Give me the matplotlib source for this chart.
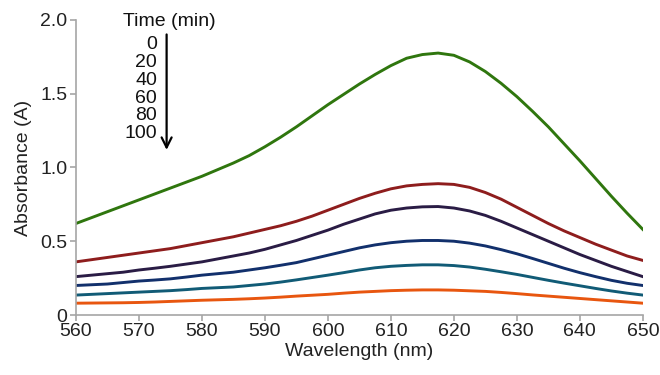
import numpy as np
import matplotlib
matplotlib.use("Agg")
import matplotlib.pyplot as plt

plt.rcParams['font.family'] = ['Liberation Sans', 'DejaVu Sans']

# Wavelength grid (nm), every 2.5 nm, and absorbance.
wavelength = np.arange(560, 650.1, 2.5)

abs_0 = [0.62, 0.66, 0.70, 0.74, 0.78, 0.82, 0.86, 0.90, 0.94, 0.985,
         1.03, 1.08, 1.14, 1.205, 1.275, 1.35, 1.425, 1.495, 1.565, 1.63,
         1.69, 1.74, 1.765, 1.775, 1.76, 1.715, 1.65, 1.57, 1.48, 1.38,
         1.275, 1.16, 1.045, 0.925, 0.805, 0.69, 0.58]
abs_20 = [0.36, 0.375, 0.39, 0.405, 0.42, 0.435, 0.45, 0.47, 0.49, 0.51,
          0.53, 0.555, 0.58, 0.605, 0.635, 0.67, 0.71, 0.75, 0.79, 0.825,
          0.855, 0.875, 0.885, 0.89, 0.885, 0.865, 0.83, 0.785, 0.73, 0.675,
          0.62, 0.57, 0.525, 0.48, 0.44, 0.40, 0.37]
abs_40 = [0.26, 0.27, 0.28, 0.29, 0.305, 0.317, 0.33, 0.345, 0.36, 0.38,
          0.40, 0.42, 0.445, 0.475, 0.505, 0.54, 0.575, 0.615, 0.65, 0.685,
          0.71, 0.725, 0.733, 0.735, 0.725, 0.705, 0.675, 0.635, 0.59, 0.545,
          0.50, 0.455, 0.41, 0.37, 0.33, 0.295, 0.26]
abs_60 = [0.20, 0.205, 0.21, 0.22, 0.23, 0.237, 0.245, 0.257, 0.27, 0.28,
          0.29, 0.305, 0.32, 0.337, 0.355, 0.38, 0.405, 0.43, 0.455, 0.475,
          0.49, 0.50, 0.505, 0.505, 0.50, 0.487, 0.468, 0.443, 0.415, 0.383,
          0.35, 0.317, 0.287, 0.26, 0.235, 0.215, 0.20]
abs_80 = [0.135, 0.14, 0.145, 0.15, 0.155, 0.16, 0.165, 0.172, 0.18, 0.185,
          0.19, 0.20, 0.21, 0.223, 0.238, 0.254, 0.27, 0.287, 0.305, 0.32,
          0.33, 0.336, 0.34, 0.34, 0.335, 0.325, 0.31, 0.293, 0.275, 0.255,
          0.235, 0.216, 0.198, 0.18, 0.163, 0.148, 0.135]
abs_100 = [0.08, 0.081, 0.082, 0.083, 0.085, 0.088, 0.092, 0.096, 0.10, 0.103,
           0.106, 0.11, 0.115, 0.121, 0.128, 0.134, 0.14, 0.148, 0.155, 0.16,
           0.165, 0.168, 0.17, 0.17, 0.168, 0.164, 0.16, 0.153, 0.145, 0.136,
           0.128, 0.12, 0.112, 0.104, 0.096, 0.088, 0.08]

times = ["0", "20", "40", "60", "80", "100"]
series = [abs_0, abs_20, abs_40, abs_60, abs_80, abs_100]
colors = ["#2f760e", "#8e1d1d", "#2a1c45", "#12306c", "#115b76", "#e8560f"]

fig = plt.figure(figsize=(6.6, 3.75), dpi=100)
ax = fig.add_axes([0.115, 0.16, 0.859, 0.787])

for y, c in zip(series, colors):
    ax.plot(wavelength, y, color=c, lw=2.1, solid_joinstyle="round")

ax.set_xlim(560, 650)
ax.set_ylim(0, 2.0)
ax.set_xticks(range(560, 651, 10))
ax.set_yticks([0, 0.5, 1.0, 1.5, 2.0])
ax.set_yticklabels(["0", "0.5", "1.0", "1.5", "2.0"])

for s in ["top", "right"]:
    ax.spines[s].set_visible(False)
for s in ["left", "bottom"]:
    ax.spines[s].set_color("#a6a6a6")
    ax.spines[s].set_linewidth(1.2)
ax.tick_params(colors="#a6a6a6", labelcolor="#222222", labelsize=14,
               length=4, width=1.2, pad=2)

ax.set_xlabel("Wavelength (nm)", fontsize=14, color="#222222", labelpad=2)
ax.set_ylabel("Absorbance (A)", fontsize=14, color="#222222", labelpad=6)

# Time annotation with arrow.
ax.text(574.8, 1.99, "Time (min)", fontsize=14, ha="center", va="center",
        color="#111111")
for i, t in enumerate(times):
    ax.text(572.9, 1.83 - i * 0.12, t, fontsize=14, ha="right",
            va="center", color="#111111")
ax.annotate("", xy=(574.4, 1.10), xytext=(574.4, 1.92),
            arrowprops=dict(arrowstyle="->", color="black", lw=1.6,
                            mutation_scale=18))

fig.savefig("out.png", dpi=100)
